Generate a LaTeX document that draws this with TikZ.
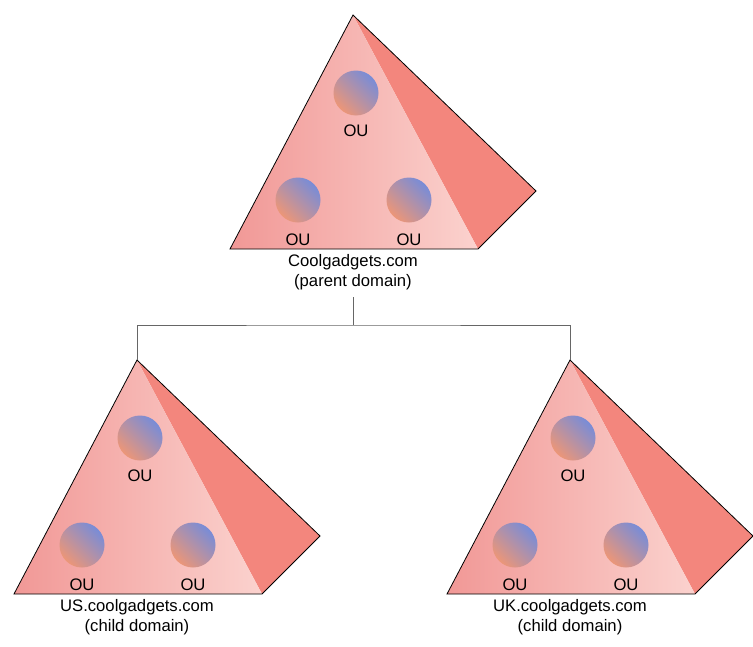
\documentclass[tikz,border=0pt]{standalone}
\usepackage{fontspec}
\setmainfont{Liberation Sans}
\definecolor{faceL}{RGB}{241,152,150}
\definecolor{faceR}{RGB}{251,210,206}
\definecolor{sidec}{RGB}{243,134,125}
\definecolor{ouorange}{RGB}{236,150,120}
\definecolor{oublue}{RGB}{120,140,215}
\tikzset{
  side/.style={fill=sidec},
  front/.style={left color=faceL,right color=faceR},
  outline/.style={draw=black,line width=0.6pt,line join=miter},
  oucircle/.style={circle,minimum size=33.75pt,inner sep=0,top color=oublue,bottom color=ouorange,shading angle=-45},
  outext/.style={font=\fontsize{12.5}{15}\selectfont,inner sep=0},
  domlabel/.style={font=\fontsize{12.5}{15}\selectfont,align=center,inner sep=0,anchor=north},
  conn/.style={draw=black!60,line width=0.75pt},
  pyramid/.pic={
    \coordinate (-apex) at (0,0);
    \coordinate (-bl) at (-123,234);
    \coordinate (-br) at (125,234);
    \coordinate (-bk) at (183,176);
    \fill[side] (-apex) -- (-bk) -- (-br) -- cycle;
    \shade[front] (-apex) -- (-br) -- (-bl) -- cycle;
    \draw[outline] (-apex) -- (-bk) -- (-br) -- (-bl) -- cycle;
    \node[oucircle] (-c1) at (3,78) {};
    \node[oucircle] (-c2) at (-55,185) {};
    \node[oucircle] (-c3) at (56,185) {};
    \node[outext] (-t1) at (3,116) {OU};
    \node[outext] (-t2) at (-55,225) {OU};
    \node[outext] (-t3) at (56,225) {OU};
  }
}
\begin{document}
\begin{tikzpicture}[x=0.75pt,y=-0.75pt]
\useasboundingbox (0,0) rectangle (753,646);
\pic (P) at (353,15) {pyramid};
\pic (L) at (137,360) {pyramid};
\pic (R) at (570,360) {pyramid};
\node[domlabel] (ptext) at (353,254) {Coolgadgets.com\\(parent domain)};
\node[domlabel] (ltext) at (137,599) {US.coolgadgets.com\\(child domain)};
\node[domlabel] (rtext) at (570,599) {UK.coolgadgets.com\\(child domain)};
\coordinate (j) at (353,325);
\draw[conn] (353,297) -- (j);
\draw[conn] (L-apex) |- (j) -| (R-apex);
\end{tikzpicture}
\end{document}
